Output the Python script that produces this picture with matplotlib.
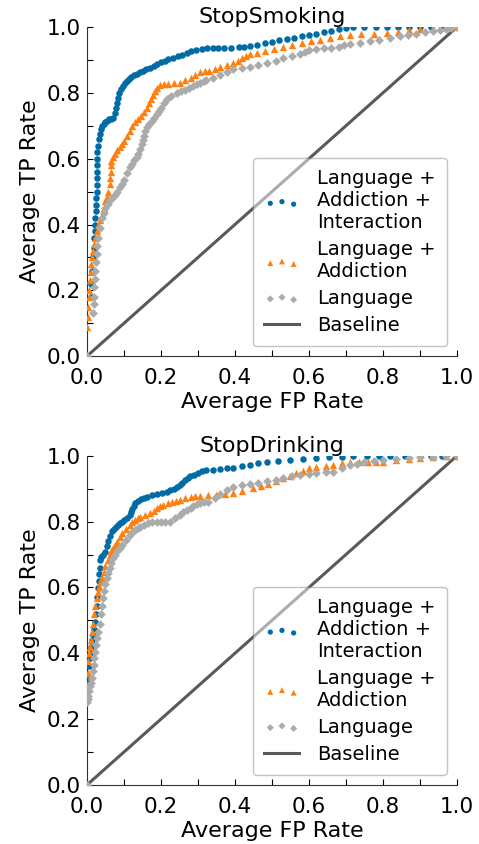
import matplotlib
matplotlib.use("Agg")
import matplotlib.pyplot as plt
from matplotlib.ticker import MultipleLocator

# ---------------- StopSmoking ----------------
smk_full_fpr = [0, 0.010, 0.012, 0.014, 0.016, 0.018, 0.020, 0.021, 0.022, 0.023, 0.024, 0.025, 0.025, 0.026, 0.026,
                0.026, 0.026, 0.027, 0.027, 0.028, 0.030, 0.032, 0.034, 0.037, 0.040, 0.045, 0.050, 0.055, 0.060, 0.066,
                0.071, 0.075, 0.078, 0.081, 0.084, 0.087, 0.092, 0.097, 0.102, 0.107, 0.114, 0.120, 0.128, 0.136, 0.143,
                0.152, 0.160, 0.170, 0.180, 0.190, 0.200, 0.210, 0.220, 0.232, 0.245, 0.258, 0.270, 0.282, 0.295, 0.310,
                0.325, 0.340, 0.355, 0.370, 0.390, 0.410, 0.425, 0.440, 0.460, 0.480, 0.500, 0.520, 0.540, 0.560, 0.580,
                0.600, 0.620, 0.640, 0.660, 0.680, 0.700, 0.720, 0.750, 0.780, 0.810, 0.840, 0.870, 0.900, 0.930, 0.960,
                0.980, 1.0]
smk_full_tpr = [0, 0.18, 0.22, 0.26, 0.30, 0.33, 0.36, 0.38, 0.40, 0.42, 0.44, 0.46, 0.48, 0.50, 0.52,
                0.54, 0.56, 0.58, 0.60, 0.62, 0.64, 0.66, 0.675, 0.69, 0.70, 0.706, 0.71, 0.715, 0.72, 0.722,
                0.725, 0.74, 0.755, 0.77, 0.785, 0.80, 0.812, 0.822, 0.83, 0.836, 0.842, 0.848, 0.853, 0.858, 0.862,
                0.867, 0.871, 0.876, 0.882, 0.888, 0.893, 0.898, 0.903, 0.907, 0.911, 0.916, 0.922, 0.927, 0.931, 0.934,
                0.935, 0.935, 0.936, 0.936, 0.937, 0.938, 0.940, 0.942, 0.946, 0.950, 0.955, 0.960, 0.964, 0.968, 0.972,
                0.976, 0.980, 0.985, 0.989, 0.993, 0.997, 0.999, 1.0, 1.0, 1.0, 1.0, 1.0, 1.0, 1.0, 1.0,
                1.0, 1.0]

smk_add_fpr = [0, 0.002, 0.003, 0.005, 0.006, 0.008, 0.010, 0.012, 0.014, 0.016, 0.019, 0.022, 0.026, 0.030, 0.035,
               0.040, 0.045, 0.050, 0.054, 0.058, 0.062, 0.063, 0.064, 0.065, 0.066, 0.070, 0.075, 0.082, 0.089, 0.095,
               0.100, 0.108, 0.116, 0.123, 0.130, 0.138, 0.145, 0.153, 0.161, 0.167, 0.172, 0.178, 0.184, 0.190, 0.197,
               0.208, 0.220, 0.235, 0.251, 0.265, 0.280, 0.292, 0.305, 0.318, 0.330, 0.345, 0.360, 0.378, 0.395, 0.408,
               0.420, 0.430, 0.440, 0.460, 0.480, 0.505, 0.530, 0.555, 0.580, 0.605, 0.630, 0.657, 0.684, 0.710, 0.740,
               0.775, 0.810, 0.840, 0.870, 0.900, 0.936, 0.970, 1.0]
smk_add_tpr = [0.09, 0.12, 0.15, 0.18, 0.20, 0.23, 0.255, 0.28, 0.30, 0.32, 0.34, 0.36, 0.38, 0.40, 0.415,
               0.43, 0.45, 0.47, 0.485, 0.50, 0.523, 0.54, 0.56, 0.58, 0.594, 0.605, 0.615, 0.625, 0.634, 0.645,
               0.655, 0.67, 0.685, 0.698, 0.71, 0.72, 0.73, 0.742, 0.755, 0.768, 0.78, 0.793, 0.806, 0.815, 0.824,
               0.826, 0.828, 0.829, 0.831, 0.838, 0.845, 0.853, 0.862, 0.865, 0.867, 0.872, 0.877, 0.885, 0.892, 0.898,
               0.905, 0.911, 0.917, 0.922, 0.928, 0.934, 0.940, 0.946, 0.952, 0.957, 0.962, 0.968, 0.973, 0.975, 0.978,
               0.980, 0.983, 0.986, 0.990, 0.994, 0.998, 1.0, 1.0]

smk_lang_fpr = [0, 0.017, 0.018, 0.019, 0.020, 0.021, 0.022, 0.024, 0.026, 0.028, 0.031, 0.035, 0.040, 0.045, 0.050,
                0.056, 0.062, 0.068, 0.075, 0.082, 0.089, 0.095, 0.100, 0.108, 0.116, 0.122, 0.128, 0.134, 0.139, 0.144,
                0.148, 0.152, 0.155, 0.158, 0.161, 0.168, 0.175, 0.182, 0.188, 0.194, 0.200, 0.207, 0.215, 0.228, 0.242,
                0.255, 0.265, 0.276, 0.287, 0.296, 0.305, 0.315, 0.323, 0.340, 0.360, 0.378, 0.395, 0.418, 0.440, 0.463,
                0.486, 0.510, 0.530, 0.553, 0.576, 0.590, 0.600, 0.620, 0.640, 0.660, 0.680, 0.695, 0.710, 0.738, 0.765,
                0.790, 0.820, 0.846, 0.868, 0.890, 0.913, 0.936, 0.955, 0.970, 0.985, 1.0]
smk_lang_tpr = [0, 0.13, 0.16, 0.18, 0.21, 0.235, 0.26, 0.285, 0.31, 0.335, 0.36, 0.39, 0.42, 0.435, 0.45,
                0.462, 0.473, 0.48, 0.49, 0.50, 0.513, 0.523, 0.535, 0.555, 0.574, 0.585, 0.595, 0.605, 0.614, 0.63,
                0.644, 0.657, 0.67, 0.683, 0.695, 0.705, 0.715, 0.725, 0.735, 0.745, 0.755, 0.768, 0.78, 0.79, 0.80,
                0.805, 0.81, 0.815, 0.82, 0.826, 0.831, 0.835, 0.838, 0.846, 0.855, 0.863, 0.871, 0.875, 0.88, 0.886,
                0.892, 0.898, 0.905, 0.911, 0.917, 0.925, 0.93, 0.932, 0.935, 0.937, 0.94, 0.944, 0.947, 0.952, 0.957,
                0.962, 0.968, 0.973, 0.977, 0.98, 0.984, 0.988, 0.992, 0.995, 0.998, 1.0]

# ---------------- StopDrinking ----------------
drk_full_fpr = [0, 0.002, 0.004, 0.006, 0.008, 0.010, 0.012, 0.014, 0.016, 0.019, 0.022, 0.024, 0.026, 0.028, 0.031,
                0.032, 0.033, 0.034, 0.035, 0.038, 0.042, 0.049, 0.054, 0.058, 0.062, 0.067, 0.072, 0.078, 0.084, 0.089,
                0.095, 0.100, 0.108, 0.116, 0.120, 0.123, 0.127, 0.130, 0.138, 0.145, 0.153, 0.161, 0.175, 0.190, 0.203,
                0.215, 0.225, 0.235, 0.243, 0.251, 0.258, 0.265, 0.272, 0.278, 0.290, 0.300, 0.312, 0.323, 0.340, 0.360,
                0.378, 0.395, 0.418, 0.440, 0.463, 0.486, 0.515, 0.550, 0.585, 0.620, 0.655, 0.690, 0.720, 0.756, 0.790,
                0.820, 0.860, 0.900, 0.930, 0.960, 1.0]
drk_full_tpr = [0.283, 0.31, 0.33, 0.36, 0.385, 0.40, 0.42, 0.44, 0.455, 0.475, 0.496, 0.52, 0.545, 0.57, 0.598,
                0.62, 0.64, 0.66, 0.684, 0.693, 0.70, 0.709, 0.725, 0.74, 0.755, 0.77, 0.778, 0.785, 0.79, 0.795,
                0.80, 0.805, 0.812, 0.82, 0.83, 0.838, 0.847, 0.856, 0.862, 0.868, 0.872, 0.876, 0.88, 0.884, 0.888,
                0.891, 0.895, 0.90, 0.906, 0.912, 0.918, 0.925, 0.931, 0.937, 0.943, 0.948, 0.953, 0.957, 0.958, 0.96,
                0.962, 0.964, 0.968, 0.972, 0.977, 0.982, 0.985, 0.988, 0.991, 0.994, 0.996, 0.997, 0.999, 1.0, 1.0,
                1.0, 1.0, 1.0, 1.0, 1.0, 1.0]

drk_add_fpr = [0, 0, 0.002, 0.004, 0.006, 0.008, 0.010, 0.013, 0.016, 0.020, 0.023, 0.026, 0.029, 0.033, 0.036,
               0.040, 0.045, 0.050, 0.056, 0.062, 0.066, 0.070, 0.075, 0.080, 0.088, 0.095, 0.105, 0.116, 0.123, 0.130,
               0.137, 0.143, 0.157, 0.170, 0.180, 0.190, 0.198, 0.206, 0.218, 0.230, 0.240, 0.251, 0.265, 0.280, 0.293,
               0.305, 0.328, 0.350, 0.372, 0.395, 0.420, 0.450, 0.470, 0.490, 0.510, 0.530, 0.548, 0.565, 0.583, 0.600,
               0.620, 0.645, 0.666, 0.690, 0.710, 0.735, 0.760, 0.780, 0.800, 0.835, 0.870, 0.900, 0.936, 0.970, 1.0]
drk_add_tpr = [0, 0.30, 0.34, 0.375, 0.40, 0.42, 0.44, 0.466, 0.49, 0.52, 0.545, 0.567, 0.585, 0.60, 0.615,
               0.628, 0.648, 0.665, 0.683, 0.70, 0.71, 0.72, 0.73, 0.739, 0.752, 0.765, 0.778, 0.79, 0.798, 0.805,
               0.81, 0.815, 0.82, 0.826, 0.833, 0.84, 0.846, 0.851, 0.856, 0.86, 0.863, 0.866, 0.871, 0.875, 0.877,
               0.878, 0.88, 0.882, 0.884, 0.886, 0.893, 0.902, 0.908, 0.915, 0.923, 0.932, 0.94, 0.948, 0.955, 0.962,
               0.966, 0.969, 0.972, 0.977, 0.982, 0.982, 0.982, 0.982, 0.982, 0.986, 0.99, 0.993, 0.997, 0.999, 1.0]

drk_lang_fpr = [0, 0, 0.002, 0.004, 0.006, 0.008, 0.010, 0.013, 0.015, 0.018, 0.020, 0.022, 0.025, 0.028, 0.031,
                0.034, 0.038, 0.041, 0.044, 0.047, 0.050, 0.053, 0.057, 0.062, 0.066, 0.071, 0.076, 0.082, 0.088, 0.094,
                0.105, 0.116, 0.123, 0.130, 0.137, 0.143, 0.155, 0.165, 0.177, 0.188, 0.200, 0.212, 0.224, 0.238, 0.251,
                0.260, 0.270, 0.280, 0.287, 0.296, 0.305, 0.317, 0.328, 0.345, 0.360, 0.378, 0.395, 0.418, 0.440, 0.463,
                0.486, 0.510, 0.530, 0.553, 0.576, 0.600, 0.620, 0.645, 0.666, 0.690, 0.710, 0.730, 0.750, 0.775, 0.800,
                0.835, 0.870, 0.900, 0.936, 0.970, 1.0]
drk_lang_tpr = [0, 0.253, 0.26, 0.27, 0.285, 0.30, 0.31, 0.324, 0.345, 0.365, 0.385, 0.405, 0.425, 0.445, 0.466,
                0.49, 0.52, 0.545, 0.567, 0.59, 0.61, 0.628, 0.645, 0.66, 0.675, 0.689, 0.70, 0.71, 0.72, 0.729,
                0.745, 0.76, 0.768, 0.775, 0.78, 0.785, 0.79, 0.795, 0.798, 0.80, 0.80, 0.80, 0.80, 0.81, 0.82,
                0.828, 0.835, 0.841, 0.846, 0.852, 0.858, 0.86, 0.861, 0.873, 0.885, 0.896, 0.906, 0.91, 0.914, 0.918,
                0.922, 0.927, 0.932, 0.937, 0.942, 0.945, 0.947, 0.95, 0.952, 0.962, 0.972, 0.976, 0.98, 0.984, 0.988,
                0.99, 0.993, 0.995, 0.997, 0.999, 1.0]

baseline = [0.0, 1.0]
titles = ["StopSmoking", "StopDrinking"]
labels = ["Language +\nAddiction +\nInteraction", "Language +\nAddiction", "Language", "Baseline"]

C_BLUE, C_ORANGE, C_GRAY, C_DARK = "#006BA4", "#FF800E", "#ABABAB", "#595959"

fig = plt.figure(figsize=(4.79, 8.44), dpi=100)
ax1 = fig.add_axes([0.1816, 0.578, 0.7724, 0.390])
ax2 = fig.add_axes([0.1816, 0.070, 0.7724, 0.390])

panels = [
    (ax1, smk_full_fpr, smk_full_tpr, smk_add_fpr, smk_add_tpr, smk_lang_fpr, smk_lang_tpr),
    (ax2, drk_full_fpr, drk_full_tpr, drk_add_fpr, drk_add_tpr, drk_lang_fpr, drk_lang_tpr),
]

for i, (ax, f1, t1, f2, t2, f3, t3) in enumerate(panels):
    ax.scatter(f1, t1, s=22, marker='o', color=C_BLUE, label=labels[0], zorder=3, linewidths=0)
    ax.scatter(f2, t2, s=28, marker='^', color=C_ORANGE, label=labels[1], zorder=3, linewidths=0)
    ax.scatter(f3, t3, s=20, marker='D', color=C_GRAY, label=labels[2], zorder=3, linewidths=0)
    ax.plot(baseline, baseline, color=C_DARK, lw=2.2, label=labels[3], zorder=2)
    ax.set_xlim(0, 1)
    ax.set_ylim(0, 1)
    ax.set_title(titles[i], fontsize=16, pad=2)
    ax.set_xlabel("Average FP Rate", fontsize=16, labelpad=3)
    ax.set_ylabel("Average TP Rate", fontsize=16, labelpad=5)
    ax.xaxis.set_major_locator(MultipleLocator(0.2))
    ax.xaxis.set_minor_locator(MultipleLocator(0.1))
    ax.yaxis.set_major_locator(MultipleLocator(0.2))
    ax.yaxis.set_minor_locator(MultipleLocator(0.1))
    ax.tick_params(which='both', direction='in', labelsize=15.5, width=0.8, length=4, colors='black')
    ax.tick_params(axis='x', which='both', pad=8.5)
    ax.tick_params(axis='y', which='both', pad=4.5)
    for s in ['top', 'right']:
        ax.spines[s].set_visible(False)
    for s in ['left', 'bottom']:
        ax.spines[s].set_color('#333333')
    ax.legend(loc='lower right', fontsize=14, framealpha=0.5, edgecolor='#888888',
              borderaxespad=0.5, borderpad=0.6, handlelength=1.8, handletextpad=0.9,
              labelspacing=0.4, scatterpoints=3, scatteryoffsets=[0.375, 0.5, 0.3125],
              markerscale=0.8)

fig.savefig("out.png", dpi=100)
